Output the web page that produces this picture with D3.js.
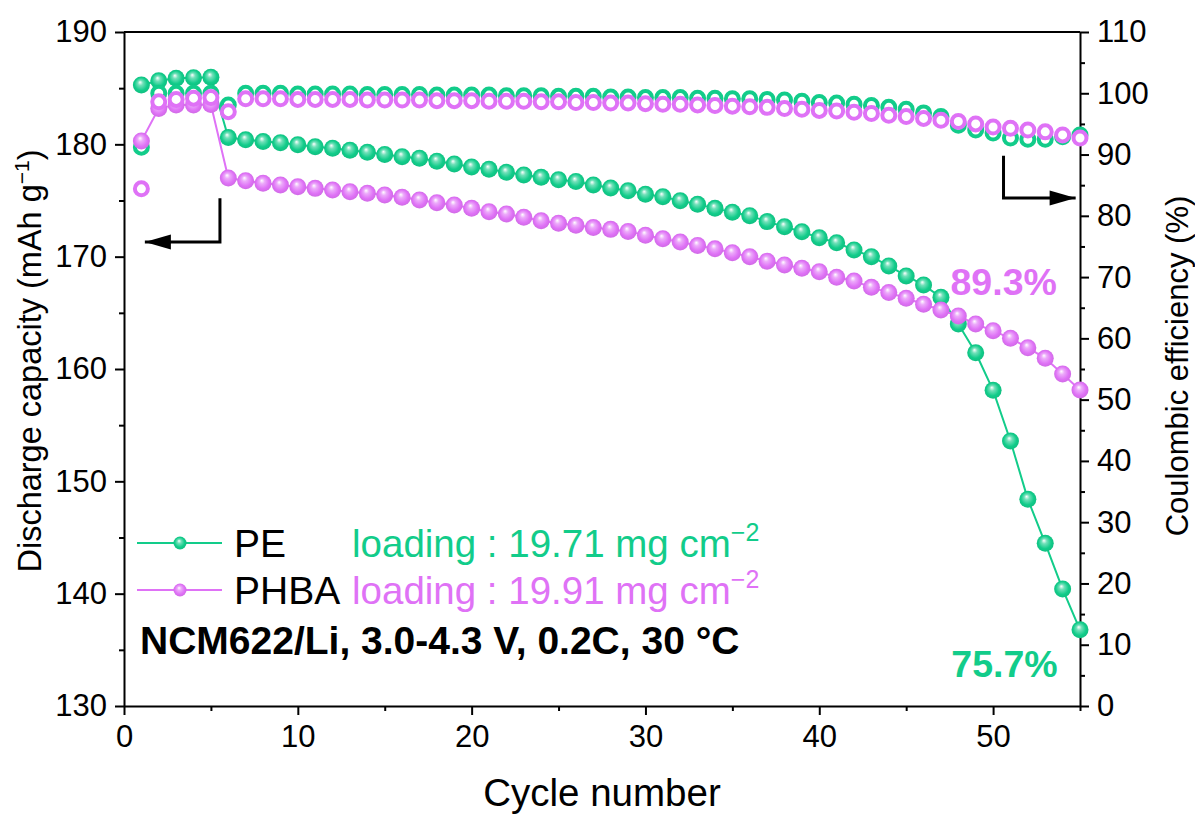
<!DOCTYPE html>
<html><head><meta charset="utf-8">
<script src="https://cdn.jsdelivr.net/npm/d3@7"></script>
<style>
html,body{margin:0;padding:0;background:#fff;}
text{font-family:"Liberation Sans",Arial,sans-serif;}
</style></head>
<body><svg id="c" width="1195" height="814"></svg>
<script>
const cycles = d3.range(1, 56);
const peCapacity = [185.28,185.66,185.88,185.93,185.97,180.6,180.4,180.25,180.15,179.97,179.79,179.65,179.47,179.29,179.1,178.9,178.76,178.5,178.25,177.98,177.78,177.51,177.27,177.06,176.85,176.7,176.38,176.11,175.87,175.55,175.34,174.98,174.66,174.3,173.95,173.65,173.12,172.67,172.22,171.69,171.24,170.6,170.0,169.17,168.28,167.48,166.38,164.0,161.45,158.1,153.59,148.4,144.48,140.41,136.78];
const phbaCapacity = [180.3,183.2,183.5,183.5,183.55,177.0,176.76,176.53,176.38,176.23,176.08,175.93,175.78,175.64,175.49,175.28,175.04,174.8,174.6,174.3,174.0,173.8,173.5,173.2,172.97,172.79,172.6,172.43,172.25,171.9,171.6,171.3,171.0,170.7,170.35,170.0,169.6,169.26,168.96,168.66,168.16,167.83,167.27,166.8,166.3,165.76,165.25,164.72,164.0,163.41,162.73,161.9,160.95,159.55,158.13];
const peCE = [91.2,100.0,100.0,100.0,100.0,98.1,100.0,100.0,100.0,99.9,99.9,99.9,99.9,99.8,99.8,99.8,99.8,99.7,99.7,99.7,99.7,99.6,99.6,99.6,99.5,99.5,99.5,99.4,99.4,99.3,99.3,99.3,99.2,99.2,99.1,99.1,99.0,98.9,98.7,98.5,98.4,98.2,98.0,97.7,97.4,96.8,96.2,94.8,94.0,93.5,92.7,92.5,92.5,92.9,93.2];
const phbaCE = [84.4,98.6,99.0,99.2,99.3,97.0,99.1,99.1,99.1,99.0,99.0,99.0,99.0,98.9,98.9,98.9,98.9,98.8,98.8,98.8,98.7,98.7,98.7,98.6,98.6,98.5,98.5,98.4,98.4,98.3,98.2,98.2,98.1,98.0,97.9,97.8,97.7,97.5,97.4,97.2,97.1,96.9,96.7,96.4,96.2,95.9,95.6,95.4,95.0,94.5,94.3,94.0,93.7,93.2,92.7];
const xTicks = [0,10,20,30,40,50];
const yLeftTicks = [130,140,150,160,170,180,190];
const yRightTicks = [0,10,20,30,40,50,60,70,80,90,100,110];
const seriesNames = ["PE","PHBA"];
const loadings = ["loading : 19.71 mg cm","loading : 19.91 mg cm"];

const GREEN = "#12CC8A", MAGENTA = "#DF72F6";
const W = 1195, H = 814;
const m = {l:124, r:115, t:32, b:108};
const svg = d3.select("#c");
const x = d3.scaleLinear().domain([0,55]).range([m.l, W-m.r]);
const yL = d3.scaleLinear().domain([130,190]).range([H-m.b, m.t]);
const yR = d3.scaleLinear().domain([0,110]).range([H-m.b, m.t]);

const defs = svg.append("defs");
function grad(id, col){
  const g = defs.append("radialGradient").attr("id", id).attr("cx","50%").attr("cy","50%").attr("r","55%").attr("fx","42%").attr("fy","33%");
  g.append("stop").attr("offset","0%").attr("stop-color","#ffffff");
  g.append("stop").attr("offset","28%").attr("stop-color", d3.interpolateRgb("#ffffff", col)(0.6));
  g.append("stop").attr("offset","68%").attr("stop-color", col);
  g.append("stop").attr("offset","100%").attr("stop-color", d3.color(col).darker(0.25));
}
grad("gG", GREEN); grad("gM", MAGENTA);

const axStyle = g => { g.selectAll("path").attr("stroke","#000").attr("stroke-width",2); g.selectAll("line").attr("stroke","#000").attr("stroke-width",2); g.selectAll("text").attr("font-size",31).attr("fill","#000").attr("font-family","'Liberation Sans',Arial,sans-serif"); };
const minorStyle = g=>{g.select("path").remove(); g.selectAll("line").attr("stroke","#000").attr("stroke-width",2);};

const gx = svg.append("g").attr("transform",`translate(0,${H-m.b})`)
  .call(d3.axisBottom(x).tickValues(xTicks).tickSize(9).tickSizeOuter(0).tickPadding(10).tickFormat(d3.format("d")));
axStyle(gx);
svg.append("g").attr("transform",`translate(0,${H-m.b})`)
  .call(d3.axisBottom(x).tickValues(d3.range(5,56,10)).tickSize(5).tickSizeOuter(0).tickFormat("")).call(minorStyle);

const gyl = svg.append("g").attr("transform",`translate(${m.l},0)`)
  .call(d3.axisLeft(yL).tickValues(yLeftTicks).tickSize(9).tickSizeOuter(0).tickPadding(8).tickFormat(d3.format("d")));
axStyle(gyl);
svg.append("g").attr("transform",`translate(${m.l},0)`)
  .call(d3.axisLeft(yL).tickValues(d3.range(135,190,10)).tickSize(5).tickFormat("")).call(minorStyle);

const gyr = svg.append("g").attr("transform",`translate(${W-m.r},0)`)
  .call(d3.axisRight(yR).tickValues(yRightTicks).tickSize(9).tickSizeOuter(0).tickPadding(8).tickFormat(d3.format("d")));
axStyle(gyr);
svg.append("g").attr("transform",`translate(${W-m.r},0)`)
  .call(d3.axisRight(yR).tickValues(d3.range(5,110,10)).tickSize(5).tickFormat("")).call(minorStyle);

svg.append("line").attr("x1",m.l).attr("x2",W-m.r).attr("y1",m.t).attr("y2",m.t).attr("stroke","#000").attr("stroke-width",2);

// axis titles
svg.append("text").attr("x", 602).attr("y", 806).attr("text-anchor","middle").attr("font-size",38.5).text("Cycle number");
const lt = svg.append("text").attr("transform",`translate(41,361) rotate(-90)`).attr("text-anchor","middle").attr("font-size",32.5);
lt.append("tspan").text("Discharge capacity (mAh g");
lt.append("tspan").attr("dy",-12).attr("font-size",21).text("\u22121");
lt.append("tspan").attr("dy",12).text(")");
svg.append("text").attr("transform",`translate(1188,366) rotate(-90)`).attr("text-anchor","middle").attr("font-size",31).text("Coulombic efficiency (%)");

function drawCap(vals, col, gid){
  const pts = cycles.map((c,i)=>[c, vals[i]]);
  svg.append("path").datum(pts).attr("fill","none").attr("stroke",col).attr("stroke-width",2)
    .attr("d", d3.line().x(d=>x(d[0])).y(d=>yL(d[1])));
  svg.append("g").selectAll("circle").data(pts).join("circle")
    .attr("cx",d=>x(d[0])).attr("cy",d=>yL(d[1])).attr("r",8.5).attr("fill",`url(#${gid})`);
}
function drawCE(vals, col){
  svg.append("g").selectAll("circle").data(cycles.map((c,i)=>[c, vals[i]])).join("circle")
    .attr("cx",d=>x(d[0])).attr("cy",d=>yR(d[1])).attr("r",6.5).attr("fill","#fff").attr("stroke",col).attr("stroke-width",4);
}
drawCap(peCapacity, GREEN, "gG");
drawCE(peCE, GREEN);
drawCap(phbaCapacity, MAGENTA, "gM");
drawCE(phbaCE, MAGENTA);

function arrow(pts, tipDir){
  svg.append("path").attr("d", d3.line()(pts)).attr("fill","none").attr("stroke","#000").attr("stroke-width",3);
  const [tx,ty] = pts[pts.length-1];
  const L = 26, hw = 7.5;
  const p = tipDir<0 ? [[tx,ty],[tx+L,ty-hw],[tx+L,ty+hw]] : [[tx,ty],[tx-L,ty-hw],[tx-L,ty+hw]];
  svg.append("polygon").attr("points", p.map(q=>q.join(",")).join(" ")).attr("fill","#000");
}
arrow([[x(5.52),yL(175.2)],[x(5.52),yL(171.3)],[x(1.2),yL(171.3)]], -1);
arrow([[x(50.6),yR(89.8)],[x(50.6),yR(82.9)],[x(54.75),yR(82.9)]], 1);

svg.append("text").attr("x",x(47.55)).attr("y",yL(166.6)).attr("font-size",37.5).attr("font-weight","bold").attr("fill",MAGENTA).text("89.3%");
svg.append("text").attr("x",x(47.6)).attr("y",yL(132.6)).attr("font-size",37.5).attr("font-weight","bold").attr("fill",GREEN).text("75.7%");

const cols = [GREEN, MAGENTA], gids = ["gG","gM"];
seriesNames.forEach((n,i)=>{
  const cy = 543 + i*47;
  svg.append("line").attr("x1",137).attr("x2",222).attr("y1",cy).attr("y2",cy).attr("stroke",cols[i]).attr("stroke-width",2);
  svg.append("circle").attr("cx",180).attr("cy",cy).attr("r",6.5).attr("fill",`url(#${gids[i]})`);
  svg.append("text").attr("x",234).attr("y",cy+14).attr("font-size",39).attr("fill","#000").text(n);
  const t = svg.append("text").attr("x",352).attr("y",cy+14).attr("font-size",38.5).attr("fill",cols[i]);
  t.append("tspan").text(loadings[i]);
  t.append("tspan").attr("dy",-16).attr("font-size",25).text("\u22122");
});
svg.append("text").attr("x",140).attr("y",654).attr("font-size",39).attr("font-weight","bold").attr("fill","#000").text("NCM622/Li, 3.0-4.3 V, 0.2C, 30 \u00B0C");
</script></body></html>
